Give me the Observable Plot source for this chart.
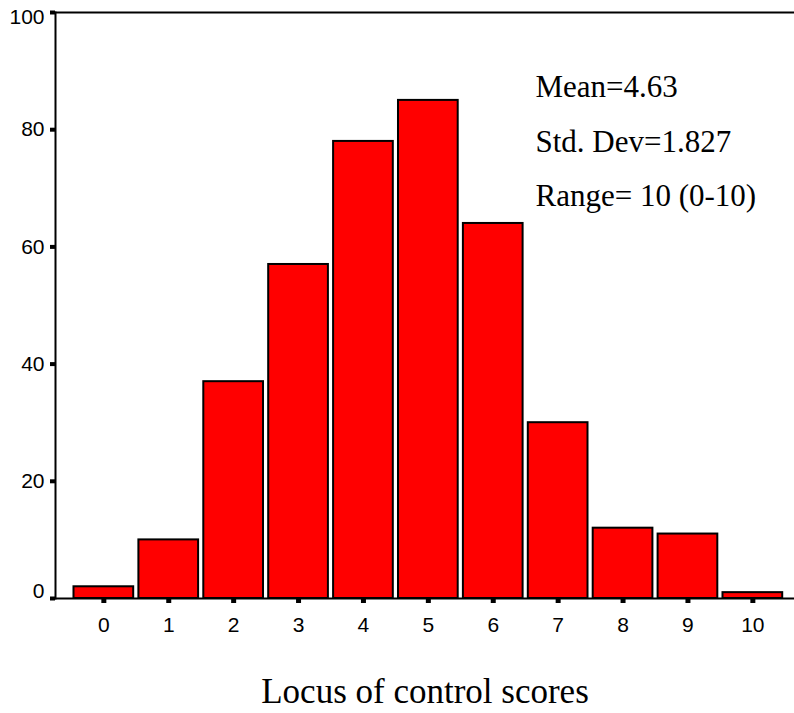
<!DOCTYPE html>
<html>
<head>
<meta charset="utf-8">
<script src="https://cdn.jsdelivr.net/npm/d3@7"></script>
<script src="https://cdn.jsdelivr.net/npm/@observablehq/plot@0.6"></script>
<style>
  html, body { margin: 0; padding: 0; background: white; }
</style>
</head>
<body>
<div id="chart"></div>
<script>
const scores = ["0","1","2","3","4","5","6","7","8","9","10"];
const counts = [2, 10, 37, 57, 78, 85, 64, 30, 12, 11, 1];
const yTicksMid = [20, 40, 60, 80];
const statLines = ["Mean=4.63", "Std. Dev=1.827", "Range= 10 (0-10)"];
const xTitle = "Locus of control scores";

const data = scores.map((s, i) => ({score: s, count: counts[i]}));

const chart = Plot.plot({
  width: 794,
  height: 713,
  marginLeft: 55,
  marginRight: 0,
  marginTop: 12,
  marginBottom: 115,
  style: {fontFamily: "Liberation Sans", background: "white", color: "black"},
  x: {type: "band", domain: scores, padding: 0.08, round: false, insetLeft: 13.3, insetRight: 6.6, axis: null},
  y: {domain: [0, 100], axis: null},
  marks: [
    Plot.barY(data, {x: "score", y: "count", fill: "#ff0000", stroke: "black", strokeWidth: 2}),
    Plot.ruleY([0], {strokeWidth: 2}),
    Plot.ruleY([100], {strokeWidth: 2}),
    Plot.frame({anchor: "left", strokeWidth: 2}),
    Plot.axisX({tickSize: 5, strokeWidth: 5, tickPadding: 14, fontSize: 21, label: null}),
    Plot.axisY({ticks: yTicksMid, tickSize: 5, strokeWidth: 4, tickPadding: 6, fontSize: 21, label: null}),
    Plot.axisY({ticks: [0, 100], tickSize: 5, strokeWidth: 4, tickFormat: () => "", label: null}),
    Plot.text([0], {y: d => d, text: d => String(d), frameAnchor: "left", dx: -11, dy: -7, textAnchor: "end", fontSize: 21}),
    Plot.text([100], {y: d => d, text: d => String(d), frameAnchor: "left", dx: -11, dy: 5, textAnchor: "end", fontSize: 21}),
    Plot.text([statLines.join("\n")], {frameAnchor: "top-left", dx: 480, dy: 46, lineAnchor: "top", textAnchor: "start", lineHeight: 54.5 / 31, fontSize: 31, fontFamily: "Liberation Serif"}),
    Plot.text([xTitle], {frameAnchor: "bottom", dx: 0, dy: 93, lineAnchor: "middle", fontSize: 35, fontFamily: "Liberation Serif"})
  ]
});
document.getElementById("chart").append(chart);
</script>
</body>
</html>
